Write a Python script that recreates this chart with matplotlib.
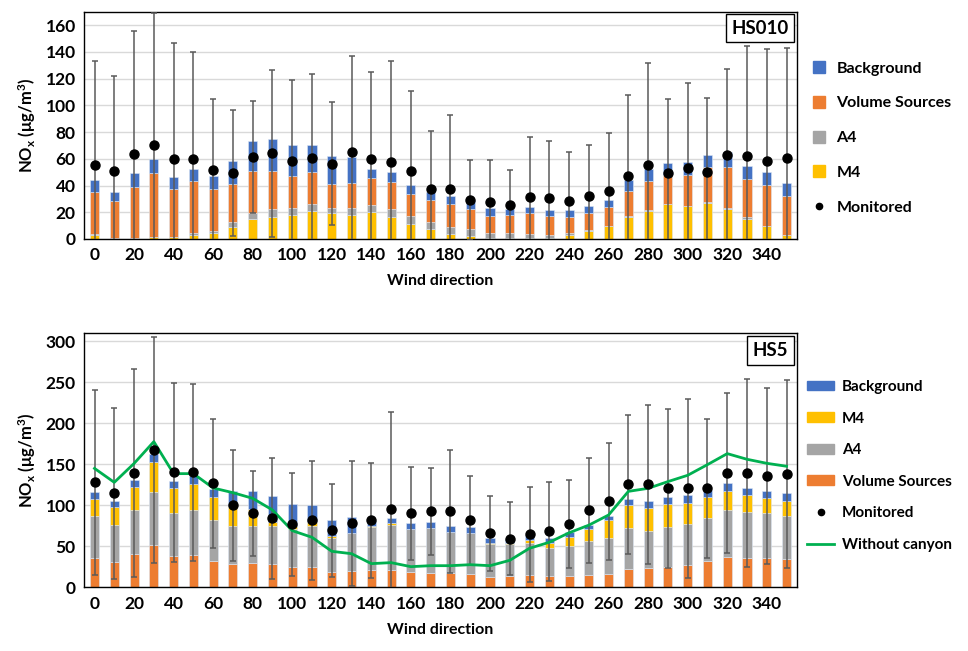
import numpy as np
import matplotlib
matplotlib.use("Agg")
import matplotlib.pyplot as plt
from matplotlib.lines import Line2D
from matplotlib.patches import Patch

plt.rcParams['font.family'] = ['Lato', 'DejaVu Sans']
plt.rcParams['font.weight'] = 'bold'
plt.rcParams['mathtext.default'] = 'regular'

# wind direction bins
directions = list(range(0, 360, 10))
tick_labels = [str(d) for d in range(0, 360, 20)]

# ---- HS010 (top panel) ----
hs010_m4 = [3, 0.5, 0.5, 1.2, 1.5, 3, 4.5, 9, 14.8, 16.5, 18, 20.8, 19.2, 18, 19.8, 16.2, 11.5, 7.2,
            4, 2.2, 0.8, 0.5, 1, 0.8, 3, 6.2, 9.8, 16.5, 21.2, 25.8, 24.8, 27.2, 22.5, 15.2, 9.8, 3]
hs010_a4 = [0.5, 0.3, 0.3, 0.3, 0.3, 1.8, 1.5, 3.5, 4.4, 5.7, 5, 5.2, 3.8, 5, 5.4, 6, 5.5, 5.3,
            5.2, 5, 4, 3.7, 3, 2.2, 1.8, 0.3, 0.2, 0.3, 0.3, 0.2, 0.2, 0.3, 0.3, 1, 0.2, 0.3]
hs010_vs = [31.3, 27.4, 38.4, 47.7, 35.4, 38.4, 31.2, 28.5, 31.6, 29, 24, 24, 18, 18.8, 20.3, 20.3, 16.5, 16.3,
            16.6, 15, 12, 13.6, 15.2, 13.8, 11.7, 13, 14.2, 19.4, 21.7, 21.6, 23, 26.7, 31.4, 29, 30.2, 28.5]
hs010_bg = [9, 7.3, 9.8, 10.3, 8.8, 9, 9.8, 17, 22.2, 23.6, 23.2, 20.2, 21.2, 19.4, 6.7, 7.5, 6.7, 6.4,
            6.7, 6.6, 6, 4.7, 5, 5.2, 5.3, 5, 4.6, 7.8, 8.8, 9.2, 9.5, 9, 10.6, 9.3, 9.6, 10.4]
hs010_mon = [55.5, 51, 63.8, 70.5, 59.8, 59.8, 51.5, 49.2, 61.5, 64.2, 58.5, 60.8, 56.2, 65.2, 60, 57.8, 51, 37.2,
             37.2, 29, 27.5, 25.2, 31.2, 30.5, 28.2, 32.2, 36, 47.2, 55.5, 49.2, 53, 50, 62.8, 62, 58.2, 60.8]
hs010_sd = [77.5, 71, 92, 99, 87, 80.2, 53, 47, 41.8, 62.6, 60.3, 62.7, 46, 71.8, 65, 75.4, 59.8, 43.3,
            55.3, 29.8, 31.3, 26.6, 44.8, 42.5, 36.6, 37.8, 43, 60.3, 76.3, 55.6, 63.8, 55.2, 64.4, 82.5, 84, 82]

# ---- HS5 (bottom panel) ----
hs5_vs = [35.8, 30.9, 40.7, 51.2, 38.2, 39.4, 32.1, 28.9, 29.7, 28.5, 24.4, 24.4, 18.7, 19.9, 21.5, 21.5, 18.7, 17.5,
          17.9, 16.3, 12.2, 13.8, 14.6, 13.8, 13.8, 15, 16.7, 22.4, 24, 24.4, 26.8, 32.1, 37, 35.8, 35.8, 34.6]
hs5_a4 = [51.6, 45.1, 53.6, 65.1, 52.5, 54.9, 50.4, 45.9, 45.1, 46.3, 46.3, 50.4, 41.5, 46.4, 52.5, 54.9, 52.8, 55.3,
          50, 50, 41.1, 39.5, 39.4, 34.6, 36.6, 41.5, 43.9, 50.4, 45.1, 49.2, 50.8, 52.9, 57.7, 56.5, 54.9, 52.4]
hs5_m4 = [20.3, 22, 28.1, 37, 30.8, 32.1, 27.7, 24.8, 20.3, 5.2, 4.1, 5.2, 2.8, 0, 0.3, 1.6, 0, 0,
          0, 0, 0.7, 0.7, 3.7, 6.1, 11, 14.6, 21.9, 28, 28.1, 28.4, 25.7, 25.6, 22.8, 20.7, 18.6, 18.3]
hs5_bg = [8.6, 7.3, 8.5, 9.7, 8.2, 9.4, 9.7, 17.9, 22.4, 31.8, 27.2, 20.8, 19.1, 19.5, 6.1, 7, 7.4, 6.9,
          6.9, 7.3, 6.2, 5.3, 5.7, 5.3, 6.1, 4.9, 4.5, 6.9, 8.1, 8.2, 9.3, 8.1, 9.7, 8.1, 8.6, 10.1]
hs5_mon = [128, 114.6, 139, 167.5, 140.2, 140.2, 126.8, 100, 90.2, 84.1, 76.8, 81.7, 69.5, 78, 81.7, 95.1, 90.2, 92.7,
           92.7, 81.7, 65.9, 59.3, 64.6, 68.3, 76.8, 93.9, 104.9, 125.6, 125.6, 120.7, 120.7, 120.7, 139, 139, 135.4, 138.2]
hs5_sd = [113, 104.4, 126.9, 137.5, 109.4, 108.2, 78.5, 67.9, 51.7, 74, 62.6, 72.8, 56.5, 76.5, 70.3, 119.1, 57, 52.8,
          74.8, 54.1, 45.5, 44.4, 58.2, 60.2, 53.7, 64.1, 71.1, 84.6, 96.8, 96.8, 109.3, 84.6, 97.6, 114.7, 107.3, 114.2]
hs5_no_canyon = [145, 128, 151, 177.6, 138.6, 138.6, 121.1, 115.4, 108.5, 94.3, 69.1, 61, 43.9, 41, 28.9, 30.1, 25.2, 26.4,
                 26.4, 27.6, 26.4, 32.9, 47.6, 54.9, 66.5, 75.8, 88.2, 117, 120.7, 128.9, 136.6, 149.6, 163, 156.1, 151.2, 147.6]

BLUE = '#4472C4'
ORANGE = '#ED7D31'
GRAY = '#A5A5A5'
YELLOW = '#FFC000'
GREEN = '#00B050'
ERR = '#5A5A5A'

x = np.array(directions)
W = 4.6


def stack(ax, layers):
    bottom = np.zeros(len(x))
    for vals, col in layers:
        vals = np.array(vals)
        ax.bar(x, vals, W, bottom=bottom, color=col, edgecolor='#DCE6F2', linewidth=0.4, zorder=2)
        bottom = bottom + vals


def style(ax, ymax, ystep, label):
    ax.set_xlim(-5.3, 355.3)
    ax.set_ylim(0, ymax)
    ax.set_yticks(np.arange(0, ymax, ystep))
    ax.set_xticks(range(0, 360, 20))
    ax.set_xticklabels(tick_labels)
    ax.grid(axis='y', color='#D9D9D9', linewidth=1, zorder=0)
    ax.set_axisbelow(True)
    ax.tick_params(length=0, labelsize=12.5, pad=6)
    for s in ax.spines.values():
        s.set_color('black')
        s.set_linewidth(1)
    ax.set_xlabel('Wind direction', fontsize=11.5, fontweight='bold', labelpad=8)
    ax.set_ylabel('NO$_x$ (μg/m$^3$)', fontsize=12, fontweight='bold', labelpad=5)
    ax.text(0.988, 0.965, label, transform=ax.transAxes, ha='right', va='top', fontsize=13.5, fontweight='bold',
            bbox=dict(boxstyle='square,pad=0.3', facecolor='white', edgecolor='black', linewidth=1), zorder=6)


fig = plt.figure(figsize=(9.68, 6.51), dpi=100)
ax1 = fig.add_axes([0.0868, 0.633, 0.7366, 0.3487])
ax2 = fig.add_axes([0.0868, 0.0978, 0.7366, 0.3906])

# top panel
stack(ax1, [(hs010_m4, YELLOW), (hs010_a4, GRAY), (hs010_vs, ORANGE), (hs010_bg, BLUE)])
ax1.errorbar(x, hs010_mon, yerr=hs010_sd, fmt='none', ecolor=ERR, elinewidth=1.1, capsize=2.5, capthick=1.1, zorder=3)
ax1.plot(x, hs010_mon, 'o', color='black', markersize=6.5, zorder=5)
style(ax1, 170, 20, 'HS010')

h1 = [Line2D([], [], marker='s', ls='none', color=BLUE, markersize=8),
      Line2D([], [], marker='s', ls='none', color=ORANGE, markersize=8),
      Line2D([], [], marker='s', ls='none', color=GRAY, markersize=8),
      Line2D([], [], marker='s', ls='none', color=YELLOW, markersize=8),
      Line2D([], [], marker='o', ls='none', color='black', markersize=4.5)]
fig.legend(h1, ['Background', 'Volume Sources', 'A4', 'M4', 'Monitored'], loc='upper left',
           bbox_to_anchor=(0.831, 0.918), frameon=False, fontsize=11.5, handlelength=0.8,
           handletextpad=0.7, labelspacing=1.29, borderpad=0)

# bottom panel
stack(ax2, [(hs5_vs, ORANGE), (hs5_a4, GRAY), (hs5_m4, YELLOW), (hs5_bg, BLUE)])
ax2.errorbar(x, hs5_mon, yerr=hs5_sd, fmt='none', ecolor=ERR, elinewidth=1.1, capsize=2.5, capthick=1.1, zorder=3)
ax2.plot(x, hs5_no_canyon, color=GREEN, linewidth=2, zorder=4)
ax2.plot(x, hs5_mon, 'o', color='black', markersize=6.5, zorder=5)
style(ax2, 310, 50, 'HS5')

h2 = [Patch(color=BLUE), Patch(color=YELLOW), Patch(color=GRAY), Patch(color=ORANGE),
      Line2D([], [], marker='o', ls='none', color='black', markersize=4.5),
      Line2D([], [], color=GREEN, linewidth=2)]
fig.legend(h2, ['Background', 'M4', 'A4', 'Volume Sources', 'Monitored', 'Without canyon'], loc='upper left',
           bbox_to_anchor=(0.826, 0.428), frameon=False, fontsize=11, handlelength=1.75, handleheight=0.6,
           handletextpad=0.5, labelspacing=1.15, borderpad=0)

fig.savefig('out.png', dpi=100)
